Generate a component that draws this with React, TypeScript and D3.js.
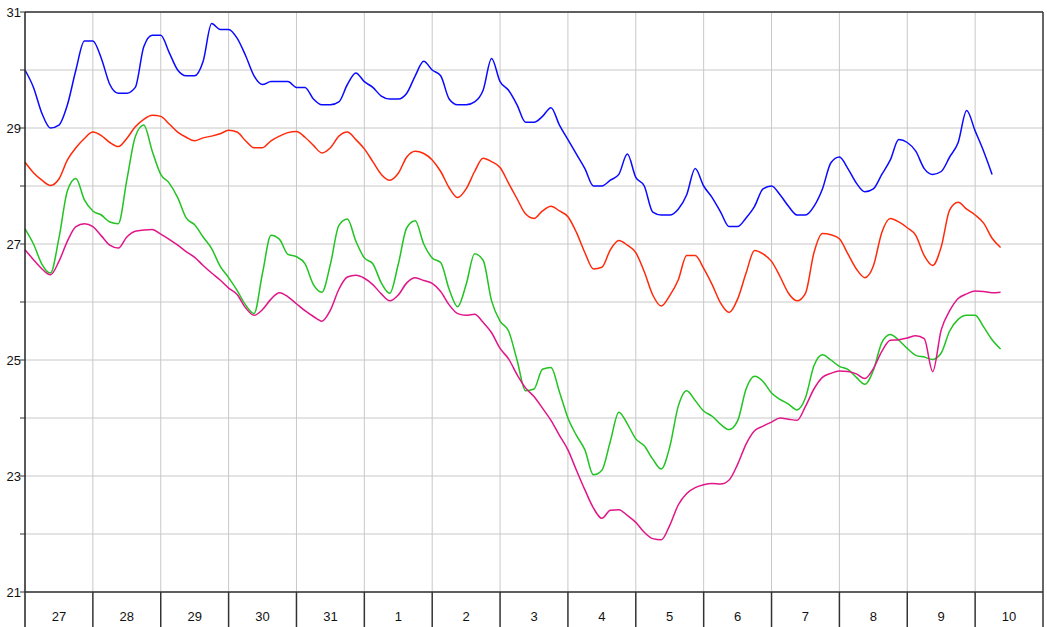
import React from "react";
import * as d3 from "d3";

// 3-hourly readings starting at 00:00 on day "27"
const dayLabels = ["27", "28", "29", "30", "31", "1", "2", "3", "4", "5", "6", "7", "8", "9", "10"];
const yTicks = [21, 22, 23, 24, 25, 26, 27, 28, 29, 30, 31];
const yLabels = [21, 23, 25, 27, 29, 31];
const stepHours = 3;

const blue = [
  30.0, 29.7, 29.25, 29.0, 29.05, 29.4, 30.0, 30.5,
  30.5, 30.2, 29.75, 29.6, 29.6, 29.7, 30.4, 30.6,
  30.6, 30.3, 30.0, 29.9, 29.9, 30.15, 30.8, 30.7,
  30.7, 30.55, 30.25, 29.9, 29.75, 29.8, 29.8, 29.8,
  29.7, 29.7, 29.5, 29.4, 29.4, 29.45, 29.75, 29.95,
  29.8, 29.7, 29.55, 29.5, 29.5, 29.6, 29.9, 30.15,
  30.0, 29.9, 29.5, 29.4, 29.4, 29.45, 29.65, 30.2,
  29.8, 29.65, 29.4, 29.1, 29.1, 29.2, 29.35, 29.05,
  28.8, 28.55, 28.3, 28.0, 28.0, 28.1, 28.2, 28.55,
  28.15, 28.0, 27.55, 27.5, 27.5, 27.6, 27.85, 28.3,
  28.0, 27.8, 27.55, 27.3, 27.3, 27.45, 27.65, 27.95,
  28.0, 27.85, 27.65, 27.5, 27.5, 27.65, 27.95, 28.4,
  28.5, 28.3, 28.05, 27.9, 27.95, 28.2, 28.45, 28.8,
  28.75, 28.6, 28.3, 28.2, 28.25, 28.5, 28.75, 29.3,
  28.95, 28.6, 28.2,
];

const red = [
  28.41, 28.23, 28.1, 28.01, 28.12, 28.45, 28.66, 28.82,
  28.93, 28.87, 28.75, 28.68, 28.82, 29.02, 29.15, 29.22,
  29.2, 29.07, 28.93, 28.84, 28.78, 28.83, 28.86, 28.9,
  28.96, 28.93, 28.78, 28.66, 28.66, 28.78, 28.86, 28.92,
  28.94, 28.84, 28.7, 28.57, 28.66, 28.86, 28.93, 28.8,
  28.64, 28.42, 28.2, 28.1, 28.22, 28.5, 28.6, 28.56,
  28.45, 28.25, 27.97, 27.8, 27.95, 28.25, 28.48, 28.42,
  28.32, 28.05, 27.78, 27.52, 27.44, 27.57, 27.65, 27.57,
  27.47, 27.2, 26.85, 26.57, 26.6, 26.9, 27.06, 26.98,
  26.85, 26.52, 26.12, 25.93, 26.11, 26.38, 26.8, 26.8,
  26.58, 26.3, 25.98, 25.82, 26.05, 26.5, 26.89, 26.83,
  26.7, 26.44, 26.15, 26.02, 26.15, 26.85, 27.18, 27.16,
  27.09, 26.83, 26.57, 26.42, 26.62, 27.2, 27.44, 27.38,
  27.28, 27.15, 26.8, 26.63, 26.95, 27.59, 27.72, 27.6,
  27.5, 27.36, 27.1, 26.94,
];

const green = [
  27.26, 27.0, 26.65, 26.5, 27.1, 27.92, 28.13, 27.76,
  27.57, 27.5, 27.38, 27.35, 28.1, 28.85, 29.05, 28.6,
  28.2, 28.05, 27.8, 27.45, 27.33, 27.12, 26.92, 26.62,
  26.42, 26.2, 25.95, 25.8, 26.5, 27.15, 27.08, 26.82,
  26.78, 26.66, 26.3, 26.17, 26.65, 27.32, 27.43, 27.05,
  26.76, 26.66, 26.33, 26.15, 26.65, 27.28, 27.4, 27.0,
  26.76, 26.68, 26.22, 25.92, 26.3, 26.83, 26.72, 26.02,
  25.67, 25.5, 25.0, 24.47, 24.5, 24.84, 24.87, 24.45,
  24.0, 23.7, 23.45, 23.02, 23.1, 23.6, 24.1, 23.9,
  23.64, 23.52, 23.29, 23.12, 23.5, 24.2, 24.47, 24.3,
  24.12, 24.03, 23.89, 23.8, 23.95, 24.5, 24.72, 24.63,
  24.43, 24.32, 24.24, 24.14, 24.35, 24.9, 25.09, 25.0,
  24.89, 24.84, 24.7, 24.58, 24.82, 25.3, 25.44, 25.34,
  25.2, 25.08, 25.05, 25.01, 25.12, 25.5, 25.7, 25.77,
  25.77, 25.57, 25.35, 25.19,
];

const magenta = [
  26.9, 26.73, 26.57, 26.47, 26.7, 27.05, 27.3, 27.35,
  27.3, 27.14, 26.98, 26.93, 27.12, 27.22, 27.24, 27.25,
  27.17, 27.08, 26.98, 26.87, 26.77, 26.63, 26.5, 26.38,
  26.24, 26.13, 25.9, 25.77, 25.87, 26.05, 26.16, 26.09,
  25.97, 25.85, 25.75, 25.67, 25.86, 26.22, 26.43, 26.46,
  26.41, 26.3, 26.14, 26.02, 26.12, 26.33, 26.42, 26.37,
  26.32, 26.18, 25.95, 25.8, 25.77, 25.79, 25.65, 25.47,
  25.2, 25.02, 24.75, 24.52, 24.37, 24.17, 23.96, 23.7,
  23.45, 23.1, 22.76, 22.45, 22.27, 22.41, 22.42, 22.32,
  22.2, 22.03, 21.92, 21.9, 22.15, 22.5, 22.7, 22.8,
  22.85, 22.87, 22.86, 22.93, 23.2, 23.55, 23.78, 23.86,
  23.93, 24.0, 23.98, 23.96, 24.2, 24.5, 24.7, 24.77,
  24.81, 24.8, 24.76, 24.68, 24.85, 25.15, 25.34, 25.35,
  25.38, 25.42, 25.37, 24.8, 25.52, 25.85, 26.06, 26.14,
  26.19, 26.18, 26.16, 26.17,
];

const seriesList = [
  { name: "blue", values: blue, color: "#0a0aff" },
  { name: "red", values: red, color: "#ff2a0a" },
  { name: "green", values: green, color: "#22c322" },
  { name: "magenta", values: magenta, color: "#e0158a" },
];

const W = 1047;
const H = 627;
const left = 25;
const right = 1043;
const top = 12;
const bottom = 592;

export default function App() {
  const x = d3.scaleLinear().domain([0, dayLabels.length]).range([left, right]);
  const y = d3.scaleLinear().domain([21, 31]).range([bottom, top]);
  const line = d3
    .line<number>()
    .x((_, i) => x((i * stepHours) / 24))
    .y((d) => y(d))
    .curve(d3.curveMonotoneX);

  const dayIdx = d3.range(dayLabels.length + 1);
  const font = "Liberation Sans, Arial, sans-serif";

  return (
    <svg
      width={W}
      height={H}
      style={{ position: "absolute", left: 0, top: 0, background: "#fff" }}
      fontFamily={font}
    >
      {yTicks.map((t) => (
        <line key={"hg" + t} x1={left} x2={right} y1={y(t)} y2={y(t)} stroke="#c8c8c8" strokeWidth={1} />
      ))}
      {dayIdx.slice(1, -1).map((d) => (
        <line key={"vg" + d} x1={x(d)} x2={x(d)} y1={top} y2={bottom} stroke="#c8c8c8" strokeWidth={1} />
      ))}

      {seriesList.map((s) => (
        <path
          key={s.name}
          d={line(s.values) || ""}
          fill="none"
          stroke={s.color}
          strokeWidth={1.5}
          strokeLinejoin="round"
        />
      ))}

      <line x1={left} x2={right} y1={top} y2={top} stroke="#333" strokeWidth={1.5} />
      <line x1={left} x2={right} y1={bottom} y2={bottom} stroke="#333" strokeWidth={1.5} />
      <line x1={left} x2={left} y1={top} y2={H} stroke="#222" strokeWidth={1.5} />
      <line x1={right} x2={right} y1={top} y2={H} stroke="#333" strokeWidth={1.5} />

      {yTicks.map((t) => (
        <line key={"yt" + t} x1={left - 5} x2={left} y1={y(t)} y2={y(t)} stroke="#333" strokeWidth={1} />
      ))}
      {yLabels.map((t) => (
        <text key={"yl" + t} x={left - 4} y={y(t)} dy="0.35em" textAnchor="end" fontSize={13} fill="#111">
          {t}
        </text>
      ))}

      {dayIdx.slice(1, -1).map((d) => (
        <line key={"ds" + d} x1={x(d)} x2={x(d)} y1={bottom} y2={H} stroke="#333" strokeWidth={1.5} />
      ))}
      {dayLabels.map((lab, i) => (
        <text key={"dl" + i} x={x(i + 0.5)} y={621} textAnchor="middle" fontSize={13} fill="#111">
          {lab}
        </text>
      ))}
    </svg>
  );
}
